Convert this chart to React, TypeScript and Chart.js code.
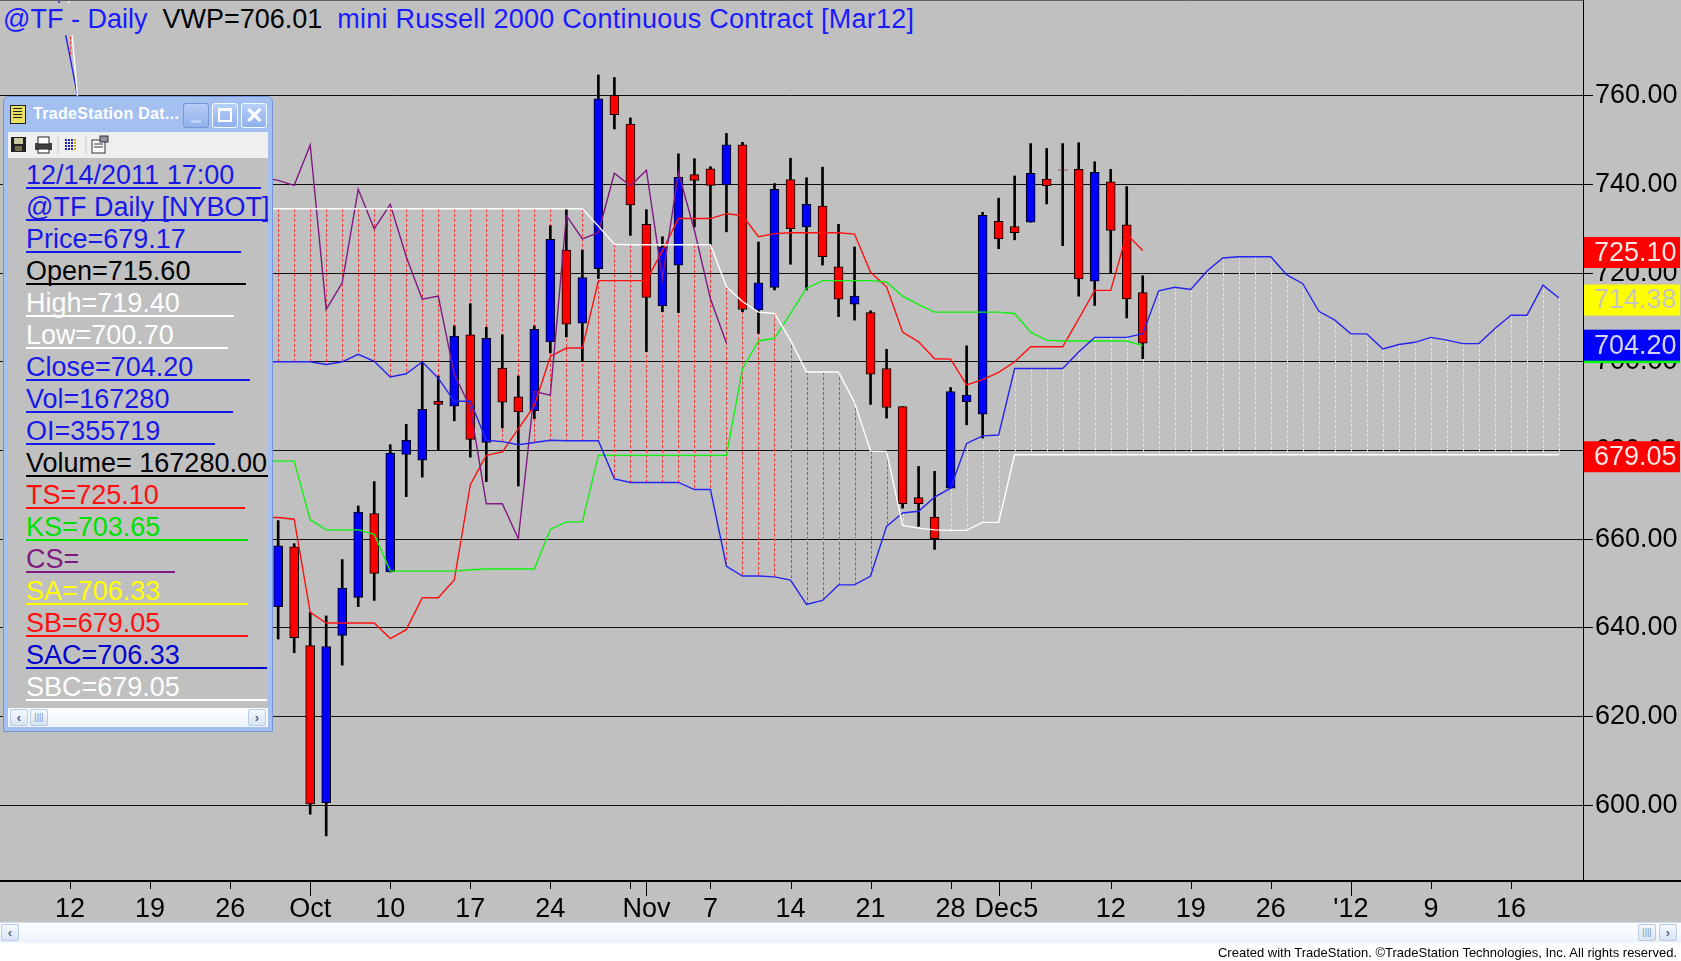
import React, { useEffect, useRef } from 'react';
import { Chart, registerables } from 'chart.js';

Chart.register(...registerables);

const FONT = "'Liberation Sans', Arial, sans-serif";

// trading days shown on the chart, Tue 6 Sep 2011 .. Fri 20 Jan 2012
// (the last 26 days only carry the projected cloud)
const days = [
  '09/06', '09/07', '09/08', '09/09',
  '09/12', '09/13', '09/14', '09/15', '09/16',
  '09/19', '09/20', '09/21', '09/22', '09/23',
  '09/26', '09/27', '09/28', '09/29', '09/30',
  '10/03', '10/04', '10/05', '10/06', '10/07',
  '10/10', '10/11', '10/12', '10/13', '10/14',
  '10/17', '10/18', '10/19', '10/20', '10/21',
  '10/24', '10/25', '10/26', '10/27', '10/28',
  '10/31', '11/01', '11/02', '11/03', '11/04',
  '11/07', '11/08', '11/09', '11/10', '11/11',
  '11/14', '11/15', '11/16', '11/17', '11/18',
  '11/21', '11/22', '11/23', '11/24', '11/25',
  '11/28', '11/29', '11/30', '12/01', '12/02',
  '12/05', '12/06', '12/07', '12/08', '12/09',
  '12/12', '12/13', '12/14', '12/15', '12/16',
  '12/19', '12/20', '12/21', '12/22', '12/23',
  '12/26', '12/27', '12/28', '12/29', '12/30',
  '01/02', '01/03', '01/04', '01/05', '01/06',
  '01/09', '01/10', '01/11', '01/12', '01/13',
  '01/16', '01/17', '01/18', '01/19', '01/20',
];

// x axis marks: day -> text ('' = tick mark without text)
const tickDays = ['09/12', '09/19', '09/26', '10/03', '10/10', '10/17', '10/24', '10/31', '11/01', '11/07', '11/14', '11/21', '11/28', '12/01', '12/05', '12/12', '12/19', '12/26', '01/02', '01/09', '01/16'];
const tickText = ['12', '19', '26', 'Oct', '10', '17', '24', '', 'Nov', '7', '14', '21', '28', 'Dec', '5', '12', '19', '26', "'12", '9', '16'];

const priceTicks = [600, 620, 640, 660, 680, 700, 720, 740, 760];

// price bars, 09/29 .. 12/14 (earlier bars sit behind the data window)
const firstBar = '09/29';
const opens = [
  644.8, 658.3, 636.0, 600.6, 638.3, 646.9, 665.8, 652.6, 679.1, 677.8,
  691.1, 690.0, 706.1, 681.8, 698.6, 692.1, 689.0, 704.5, 725.2, 708.7,
  721.0, 760.1, 753.6, 731.0, 712.6, 721.8, 742.2, 743.5, 739.9, 748.9,
  711.7, 716.8, 741.1, 730.4, 735.1, 721.4, 713.0, 711.1, 698.5, 689.9,
  669.4, 665.0, 671.5, 691.0, 688.2, 731.7, 730.5, 731.5, 741.2, 743.3,
  743.4, 718.2, 740.6, 730.9, 715.6,
];
const highs = [
  664.2, 659.0, 643.5, 642.7, 655.4, 667.5, 673.0, 681.3, 685.9, 700.0,
  696.8, 708.1, 713.1, 707.8, 706.1, 696.8, 708.1, 730.7, 734.5, 725.2,
  764.7, 764.1, 755.0, 734.3, 728.2, 746.9, 745.8, 744.0, 751.5, 749.5,
  727.0, 740.2, 745.9, 741.5, 743.9, 731.0, 725.9, 711.5, 702.8, 689.9,
  676.4, 675.3, 694.2, 703.6, 733.7, 736.9, 741.9, 749.2, 748.1, 749.2,
  749.4, 745.1, 743.4, 739.5, 719.4,
];
const lows = [
  637.5, 634.4, 598.0, 593.1, 631.6, 644.8, 646.2, 652.6, 669.6, 674.0,
  680.0, 686.7, 678.5, 673.0, 685.1, 672.0, 687.2, 702.0, 705.6, 700.1,
  718.8, 752.5, 728.5, 702.3, 711.3, 711.1, 730.4, 726.2, 729.3, 711.3,
  706.4, 716.2, 722.0, 716.2, 721.8, 710.2, 709.4, 690.4, 687.3, 667.0,
  662.9, 657.7, 671.5, 685.8, 682.8, 725.5, 727.5, 731.5, 735.6, 726.2,
  714.8, 712.7, 719.9, 709.9, 700.7,
];
const closes = [
  658.5, 637.8, 600.3, 635.8, 649.0, 666.1, 652.3, 679.4, 682.3, 689.3,
  690.4, 705.8, 682.5, 705.3, 690.9, 688.7, 707.3, 727.6, 708.5, 719.0,
  759.3, 755.7, 735.4, 714.5, 725.9, 741.6, 740.9, 739.8, 748.9, 711.8,
  717.8, 738.9, 730.0, 735.5, 723.7, 714.1, 714.8, 697.2, 689.7, 668.0,
  668.0, 660.1, 693.3, 692.5, 733.0, 727.7, 729.1, 742.5, 739.7, 743.2,
  718.7, 742.7, 729.6, 714.2, 704.2,
];

// Tenkan-sen (TS) and Kijun-sen (KS), from 09/28
const lineStart = '09/28';
const tenkan = [
  664.9, 664.9, 664.5, 643.5, 641.1, 641.1, 641.1, 641.1, 637.6, 639.6,
  646.8, 646.8, 650.8, 672.3, 678.9, 679.7, 684.9, 690.1, 701.2, 703.1,
  703.1, 718.3, 718.3, 718.3, 718.3, 725.0, 732.3, 732.3, 732.3, 733.4,
  733.0, 728.2, 728.9, 729.1, 729.1, 729.1, 729.1, 728.8, 720.2, 716.9,
  706.7, 704.5, 700.7, 700.6, 694.8, 696.0, 697.6, 700.0, 703.4, 703.4,
  703.4, 709.7, 716.1, 716.1, 728.8, 725.10,
];
const kijun = [
  677.6, 677.6, 677.6, 664.4, 662.1, 662.1, 662.1, 661.1, 652.8, 652.8,
  652.8, 652.8, 652.8, 653.1, 653.3, 653.3, 653.3, 653.3, 662.2, 663.9,
  663.9, 678.9, 678.9, 678.9, 678.9, 678.9, 678.9, 678.9, 678.9, 678.9,
  698.4, 704.7, 705.3, 710.9, 716.6, 718.3, 718.3, 718.3, 718.3, 718.0,
  714.8, 712.9, 711.2, 711.2, 711.2, 711.2, 711.2, 710.9, 706.7, 704.9,
  704.7, 704.7, 704.7, 704.7, 704.7, 703.65,
];

// Senkou spans A (blue) and B (white), from 09/09 to 01/20; null = hidden by the data window
const spanStart = '09/09';
const senkouA = [
  787.0, 768.7, 750.0, null, null, null, null, null, null, null, null, null, null,
  700.0, 700.0, 700.0, 700.0, 699.4, 700.0, 701.7, 700.1, 696.6, 697.3, 700.0,
  696.3, 691.1, 691.1, 682.3, 682.0, 681.3, 681.8, 682.3, 682.2, 682.2,
  682.2, 673.6, 672.8, 672.8, 672.8, 672.8, 671.2, 671.2, 653.9, 651.7,
  651.7, 651.5, 650.8, 645.3, 646.2, 649.7, 649.7, 651.7, 662.9, 665.9,
  666.3, 669.5, 671.5, 681.6, 683.3, 683.5, 698.5, 698.5, 698.5, 698.5,
  702.2, 705.5, 705.5, 705.5, 706.33,
  716.0, 716.8, 716.3, 720.4, 723.4, 723.7, 723.7, 723.7, 719.6, 717.6,
  711.4, 709.4, 706.3, 706.3, 702.9, 703.9, 704.4, 705.5, 704.9, 704.1,
  704.1, 707.5, 710.5, 710.5, 717.3, 714.38,
];
const senkouB = [
  805.0, 779.0, 738.0, null, null, null, null, null, null, null, null, null, null,
  734.5, 734.5, 734.5, 734.5, 734.5, 734.5, 734.5, 734.5, 734.5, 734.5, 734.5,
  734.5, 734.5, 734.5, 734.5, 734.5, 734.5, 734.5, 734.5, 734.5, 734.5,
  730.6, 726.5, 726.4, 726.4, 726.4, 726.4, 726.4, 726.4, 716.9, 713.6,
  711.2, 710.9, 704.9, 697.7, 697.7, 697.7, 690.8, 679.9, 679.8, 663.1,
  662.5, 662.1, 662.0, 662.0, 663.8, 663.8, 679.05, 679.05, 679.05, 679.05,
  679.05, 679.05, 679.05, 679.05, 679.05,
  679.05, 679.05, 679.05, 679.05, 679.05, 679.05, 679.05, 679.05, 679.05, 679.05,
  679.05, 679.05, 679.05, 679.05, 679.05, 679.05, 679.05, 679.05, 679.05, 679.05,
  679.05, 679.05, 679.05, 679.05, 679.05, 679.05,
];

const CHIKOU_SHIFT = 26;

// place a short list on the full day axis
const onDays = (values: (number | null)[], start: string) => {
  const s = days.indexOf(start);
  return days.map((_, i) => (i >= s && i - s < values.length ? values[i - s] : null));
};

const openS = onDays(opens, firstBar);
const highS = onDays(highs, firstBar);
const lowS = onDays(lows, firstBar);
const closeS = onDays(closes, firstBar);
const tenkanS = onDays(tenkan, lineStart);
const kijunS = onDays(kijun, lineStart);
const spanAS = onDays(senkouA, spanStart);
const spanBS = onDays(senkouB, spanStart);
// Chikou span: the close plotted 26 bars back
const chikouS = days.map((_, i) => closeS[i + CHIKOU_SHIFT] ?? null);

const last = (a: number[]) => a[a.length - 1];

const cloudPlugin = {
  id: 'cloud',
  beforeDatasetsDraw(chart: any) {
    const { ctx, chartArea: a, scales } = chart;
    ctx.save();
    ctx.beginPath();
    ctx.rect(a.left, a.top, a.right - a.left, a.bottom - a.top);
    ctx.clip();
    ctx.lineWidth = 1;
    ctx.setLineDash([3, 2]);
    spanAS.forEach((va, i) => {
      const vb = spanBS[i];
      if (va == null || vb == null) return;
      const x = Math.round(scales.x.getPixelForValue(i)) + 0.5;
      ctx.strokeStyle = vb > va ? '#ff3030' : '#ffff10';
      ctx.beginPath();
      ctx.moveTo(x, scales.y.getPixelForValue(Math.max(va, vb)));
      ctx.lineTo(x, scales.y.getPixelForValue(Math.min(va, vb)));
      ctx.stroke();
    });
    ctx.restore();
  },
};

const framePlugin = {
  id: 'frame',
  afterDraw(chart: any) {
    const { ctx, chartArea: a, scales, width } = chart;
    ctx.save();
    ctx.strokeStyle = '#000';
    ctx.lineWidth = 1;
    ctx.beginPath();
    ctx.moveTo(a.right + 0.5, 0);
    ctx.lineTo(a.right + 0.5, a.bottom);
    ctx.stroke();
    ctx.lineWidth = 2;
    ctx.beginPath();
    ctx.moveTo(0, a.bottom + 1);
    ctx.lineTo(width, a.bottom + 1);
    ctx.stroke();
    ctx.strokeStyle = '#606060';
    ctx.lineWidth = 1;
    ctx.beginPath();
    ctx.moveTo(0, 0.5);
    ctx.lineTo(a.right, 0.5);
    ctx.stroke();

    // x tick marks, longer at month starts
    ctx.strokeStyle = '#000';
    tickDays.forEach((d, k) => {
      const i = days.indexOf(d);
      const x = Math.round(scales.x.getPixelForValue(i)) + 0.5;
      const long = tickText[k] !== '' && !/^\d/.test(tickText[k]);
      ctx.beginPath();
      ctx.moveTo(x, a.bottom + 2);
      ctx.lineTo(x, a.bottom + (long ? 16 : 9));
      ctx.stroke();
    });

    // price tags on the axis
    const tags = [
      { v: last(tenkan), bg: '#ff0000', fg: '#f6e6e6' },
      { v: last(senkouA as number[]), bg: '#ffff00', fg: '#c4c4c4' },
      { v: last(kijun), bg: '#00ff00', fg: '#00ff00' },
      { v: last(closes), bg: '#0000ff', fg: '#d6d6ee' },
      { v: last(senkouB as number[]), bg: '#ff0000', fg: '#f6e6e6' },
    ];
    ctx.font = `27px ${FONT}`;
    ctx.textAlign = 'left';
    ctx.textBaseline = 'middle';
    tags.forEach((t) => {
      const cy = scales.y.getPixelForValue(t.v) + 2;
      ctx.fillStyle = t.bg;
      ctx.fillRect(a.right + 1, cy - 15.5, 96, 31);
      ctx.fillStyle = t.fg;
      ctx.fillText(t.v.toFixed(2), a.right + 11, cy + 1);
    });
    ctx.restore();
  },
};

const line = (data: (number | null)[], color: string) => ({
  type: 'line' as const,
  data,
  borderColor: color,
  borderWidth: 1.4,
  pointRadius: 0,
  tension: 0,
  spanGaps: false,
  order: 0,
});

const BLUE_TXT = '#1818e8';

const infoRows = [
  { text: '12/14/2011 17:00', color: BLUE_TXT, u: 235 },
  { text: '@TF Daily [NYBOT]', color: BLUE_TXT, u: 243 },
  { text: 'Price=679.17', color: BLUE_TXT, u: 215 },
  { text: `Open=${last(opens).toFixed(2)}`, color: '#000', u: 220 },
  { text: `High=${last(highs).toFixed(2)}`, color: '#fff', u: 208 },
  { text: `Low=${last(lows).toFixed(2)}`, color: '#fff', u: 202 },
  { text: `Close=${last(closes).toFixed(2)}`, color: BLUE_TXT, u: 224 },
  { text: 'Vol=167280', color: BLUE_TXT, u: 207 },
  { text: 'OI=355719', color: BLUE_TXT, u: 189 },
  { text: 'Volume= 167280.00', color: '#000', u: 242 },
  { text: `TS=${last(tenkan).toFixed(2)}`, color: '#ff1010', u: 219 },
  { text: `KS=${last(kijun).toFixed(2)}`, color: '#00e000', u: 222 },
  { text: 'CS=', color: '#801a80', u: 149 },
  { text: 'SA=706.33', color: '#ffff00', u: 222 },
  { text: 'SB=679.05', color: '#ff1010', u: 222 },
  { text: 'SAC=706.33', color: '#0000d0', u: 241 },
  { text: 'SBC=679.05', color: '#fff', u: 241 },
];

const btn: React.CSSProperties = {
  position: 'absolute',
  top: 6,
  width: 26,
  height: 25,
  boxSizing: 'border-box',
  border: '1px solid #f4f8ff',
  borderRadius: 3,
  background: 'linear-gradient(#b8d0f6, #8fb0ec)',
};

const arrowBtn: React.CSSProperties = {
  position: 'absolute',
  top: 1,
  width: 18,
  height: 17,
  boxSizing: 'border-box',
  border: '1px solid #b6cbe6',
  borderRadius: 2,
  background: 'linear-gradient(#f4f8fe, #d8e4f4)',
  color: '#4d6185',
  font: `bold 13px ${FONT}`,
  textAlign: 'center',
  lineHeight: '15px',
};

function DataWindow() {
  return (
    <div
      style={{
        position: 'absolute',
        left: 3,
        top: 96,
        width: 270,
        height: 636,
        boxSizing: 'border-box',
        background: '#a3c0f1',
        border: '1px solid #7596da',
        borderRadius: '6px 6px 0 0',
      }}
    >
      <div style={{ position: 'absolute', left: 6, top: 8, width: 14, height: 17, background: '#e8e060', border: '1px solid #202020' }}>
        <div style={{ position: 'absolute', left: 2, top: 2, width: 9, height: 11, backgroundImage: 'repeating-linear-gradient(#202020 0 1px, transparent 1px 3px)' }} />
      </div>
      <div style={{ position: 'absolute', left: 29, top: 7, color: '#fff', font: `bold 16px ${FONT}`, letterSpacing: 0.3, lineHeight: '20px' }}>
        TradeStation Dat...
      </div>
      <div style={{ ...btn, left: 179, border: '1px solid #6f8fd0', opacity: 0.85 }}>
        <div style={{ position: 'absolute', left: 7, top: 16, width: 10, height: 3, background: '#c4d6f6' }} />
      </div>
      <div style={{ ...btn, left: 208 }}>
        <div style={{ position: 'absolute', left: 5, top: 4, width: 14, height: 14, boxSizing: 'border-box', border: '2px solid #fff', borderTopWidth: 3 }} />
      </div>
      <div style={{ ...btn, left: 237, color: '#fff', font: `bold 22px ${FONT}`, textAlign: 'center', lineHeight: '23px' }}>✕</div>

      <div style={{ position: 'absolute', left: 4, top: 35, width: 260, height: 26, background: '#efefef' }}>
        <svg width="120" height="26" style={{ position: 'absolute', left: 0, top: 0 }}>
          <rect x="3" y="5" width="15" height="15" fill="#202020" />
          <rect x="6" y="6" width="9" height="6" fill="#c8c8a0" />
          <rect x="7" y="14" width="7" height="5" fill="#707050" />
          <rect x="27" y="11" width="17" height="7" fill="#404040" />
          <rect x="30" y="5" width="11" height="7" fill="#fff" stroke="#202020" />
          <rect x="30" y="17" width="11" height="4" fill="#fff" stroke="#202020" />
          <line x1="50" y1="4" x2="50" y2="22" stroke="#c8c8c8" />
          {[0, 1, 2, 3].map((r) =>
            [0, 1, 2, 3].map((c) => (
              <rect key={`${r}-${c}`} x={57 + c * 3} y={7 + r * 3} width="2" height="2" fill={c === 3 ? '#d0b000' : '#2020c0'} />
            )),
          )}
          <line x1="78" y1="4" x2="78" y2="22" stroke="#c8c8c8" />
          <rect x="84" y="8" width="13" height="13" fill="#fff" stroke="#303030" />
          <line x1="86" y1="12" x2="95" y2="12" stroke="#303030" />
          <line x1="86" y1="15" x2="95" y2="15" stroke="#303030" />
          <rect x="92" y="4" width="8" height="6" fill="#9090a0" stroke="#303030" />
        </svg>
      </div>

      <div style={{ position: 'absolute', left: 4, top: 61, width: 260, height: 550, background: '#c0c0c0', overflow: 'hidden' }}>
        {infoRows.map((r, k) => (
          <React.Fragment key={k}>
            <div
              style={{
                position: 'absolute',
                left: 18,
                top: 0.7 + 32 * k,
                height: 32,
                whiteSpace: 'pre',
                color: r.color,
                font: `27px ${FONT}`,
                lineHeight: '32px',
              }}
            >
              {r.text}
            </div>
            <div style={{ position: 'absolute', left: 18, top: 29 + 32 * k, width: r.u, height: 2, background: r.color }} />
          </React.Fragment>
        ))}
      </div>

      <div style={{ position: 'absolute', left: 4, top: 611, width: 260, height: 19, background: 'linear-gradient(#fdfeff, #eef3fb)' }}>
        <div style={{ ...arrowBtn, left: 2 }}>‹</div>
        <div style={{ ...arrowBtn, left: 22, color: '#8090b0', font: `9px ${FONT}`, lineHeight: '15px' }}>||||</div>
        <div style={{ ...arrowBtn, left: 240 }}>›</div>
      </div>
    </div>
  );
}

export default function App() {
  const canvasRef = useRef<HTMLCanvasElement>(null);

  useEffect(() => {
    document.body.style.margin = '0';
    if (!canvasRef.current) return;
    const bodyColors = days.map((_, i) =>
      closeS[i] != null && openS[i] != null && (closeS[i] as number) >= (openS[i] as number) ? '#0000ff' : '#ff0000',
    );
    const chart = new Chart(canvasRef.current, {
      type: 'bar',
      data: {
        labels: days,
        datasets: [
          line(spanBS, '#ffffff'),
          line(spanAS, '#2424f0'),
          line(chikouS, '#801a80'),
          line(kijunS, '#10f010'),
          line(tenkanS, '#ff1010'),
          {
            type: 'bar',
            data: days.map((_, i) => (openS[i] == null ? null : [openS[i], closeS[i]])) as any,
            backgroundColor: bodyColors,
            borderColor: '#000',
            borderWidth: 1,
            borderSkipped: false,
            barThickness: 9,
            grouped: false,
            order: 1,
          },
          {
            type: 'bar',
            data: days.map((_, i) => (lowS[i] == null ? null : [lowS[i], highS[i]])) as any,
            backgroundColor: '#000',
            borderWidth: 0,
            barThickness: 2,
            grouped: false,
            order: 2,
          },
        ] as any,
      },
      options: {
        animation: false,
        responsive: false,
        devicePixelRatio: 1,
        events: [],
        layout: { padding: 0 },
        plugins: { legend: { display: false }, tooltip: { enabled: false } },
        scales: {
          x: {
            type: 'category',
            offset: true,
            grid: { display: false },
            border: { display: false },
            ticks: {
              autoSkip: false,
              maxRotation: 0,
              minRotation: 0,
              padding: 5,
              color: '#000',
              font: { family: FONT, size: 27 },
              callback: (_v: any, i: number) => {
                const k = tickDays.indexOf(days[i]);
                return k < 0 ? '' : tickText[k];
              },
            },
            afterFit: (s: any) => {
              s.height = 43;
              s.paddingLeft = 0;
              s.paddingRight = 0;
            },
          },
          y: {
            position: 'right',
            min: 583.16,
            max: 781.58,
            grid: { color: '#101010', lineWidth: 1, drawTicks: true, tickLength: 10, tickColor: '#000' },
            border: { display: false },
            ticks: {
              padding: 2,
              color: '#000',
              font: { family: FONT, size: 27 },
              callback: (v: any) => Number(v).toFixed(2),
            },
            afterBuildTicks: (s: any) => {
              s.ticks = priceTicks.map((value) => ({ value }));
            },
            afterFit: (s: any) => {
              s.width = 98;
              s.paddingTop = 0;
              s.paddingBottom = 0;
            },
          },
        },
      },
      plugins: [cloudPlugin, framePlugin],
    });
    return () => chart.destroy();
  }, []);

  return (
    <div style={{ position: 'absolute', left: 0, top: 0, width: 1681, height: 961, overflow: 'hidden', background: '#fff' }}>
      <div style={{ position: 'absolute', left: 0, top: 0, width: 1681, height: 923, background: '#c0c0c0' }} />
      <canvas ref={canvasRef} width={1683} height={923} style={{ position: 'absolute', left: -2, top: 0, width: 1683, height: 923 }} />

      <div
        style={{
          position: 'absolute',
          left: 3,
          top: 3,
          height: 32,
          padding: '0 4px 0 0',
          background: '#c0c0c0',
          whiteSpace: 'pre',
          font: `27px ${FONT}`,
          lineHeight: '32px',
          color: '#1a1aff',
        }}
      >
        {'@TF - Daily  '}
        <span style={{ color: '#000' }}>{'VWP=706.01  '}</span>
        <span style={{ letterSpacing: 0.25 }}>{'mini Russell 2000 Continuous Contract [Mar12]'}</span>
      </div>

      <DataWindow />

      <div
        style={{
          position: 'absolute',
          left: 0,
          top: 922,
          width: 1681,
          height: 21,
          boxSizing: 'border-box',
          borderTop: '1px solid #d2deee',
          background: 'linear-gradient(#fbfdff, #edf3fb)',
        }}
      >
        <div style={{ ...arrowBtn, left: 1 }}>‹</div>
        <div style={{ ...arrowBtn, left: 1638, color: '#8090b0', font: `9px ${FONT}`, lineHeight: '15px' }}>||||</div>
        <div style={{ ...arrowBtn, left: 1659 }}>›</div>
      </div>

      <div
        style={{
          position: 'absolute',
          right: 4,
          top: 944,
          height: 17,
          whiteSpace: 'pre',
          font: `13px ${FONT}`,
          lineHeight: '17px',
          color: '#000',
        }}
      >
        Created with TradeStation. ©TradeStation Technologies, Inc. All rights reserved.
      </div>
    </div>
  );
}
